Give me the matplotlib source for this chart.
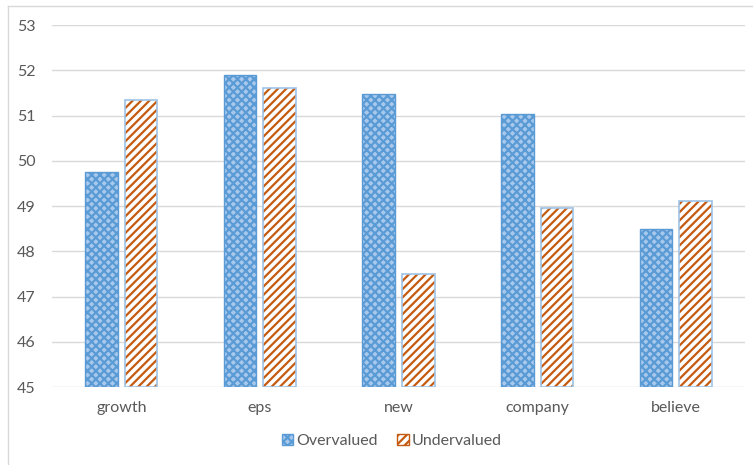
import matplotlib
matplotlib.use("Agg")
import matplotlib.pyplot as plt
import numpy as np
from matplotlib.patches import Patch
from matplotlib.lines import Line2D

categories = ["growth", "eps", "new", "company", "believe"]
overvalued = [49.75, 51.9, 51.48, 51.03, 48.5]
undervalued = [51.34, 51.6, 47.5, 48.96, 49.1]
yticks = [45, 46, 47, 48, 49, 50, 51, 52, 53]

plt.rcParams['font.family'] = ['Lato', 'DejaVu Sans']
plt.rcParams['hatch.linewidth'] = 1.6

fig = plt.figure(figsize=(7.53, 4.65), dpi=100)
ax = fig.add_axes([52/753, 1-387/465, (745-52)/753, (387-25)/465])

x = np.arange(len(categories))
w = 0.235
gap = 0.05
xo = x - (w + gap) / 2
xu = x + (w + gap) / 2

ax.bar(xo, [v - 45 for v in overvalued], w, bottom=45, facecolor='#A8C9EC',
       edgecolor='#5B9BD5', hatch='xxxx', linewidth=1.0, zorder=3)
ax.bar(xu, [v - 45 for v in undervalued], w, bottom=45, facecolor='white',
       edgecolor='#C55A11', hatch='////', linewidth=0, zorder=3)
ax.bar(xu, [v - 45 for v in undervalued], w, bottom=45, facecolor='none',
       edgecolor='#9DC3E6', linewidth=1.2, zorder=4)

ax.set_ylim(45, 53)
ax.set_xlim(-0.5, len(categories) - 0.5)
ax.set_yticks(yticks)
ax.set_xticks(x)
ax.set_xticklabels(categories)
ax.tick_params(axis='both', length=0, labelsize=11.5, colors='#595959')
ax.tick_params(axis='y', pad=12)
ax.tick_params(axis='x', pad=10)
ax.grid(axis='y', color='#D9D9D9', linewidth=1, zorder=0)
for s in ax.spines.values():
    s.set_visible(False)

handles = [Patch(facecolor='#A8C9EC', edgecolor='#5B9BD5', hatch='xxxx', label='Overvalued'),
           Patch(facecolor='white', edgecolor='#C55A11', hatch='////', label='Undervalued')]
leg = fig.legend(handles=handles, loc='center', bbox_to_anchor=(392/753, 1-441/465),
                 ncol=2, frameon=False, fontsize=11.5, handlelength=0.7, handleheight=0.7,
                 handletextpad=0.2, columnspacing=1.2)
for t in leg.get_texts():
    t.set_color('#595959')

fig.add_artist(Line2D([8/753, 8/753], [0, 1-6/465], transform=fig.transFigure, color='#D9D9D9', linewidth=1))
fig.add_artist(Line2D([8/753, 1], [1-6/465, 1-6/465], transform=fig.transFigure, color='#D9D9D9', linewidth=1))

fig.savefig("out.png", dpi=100)
